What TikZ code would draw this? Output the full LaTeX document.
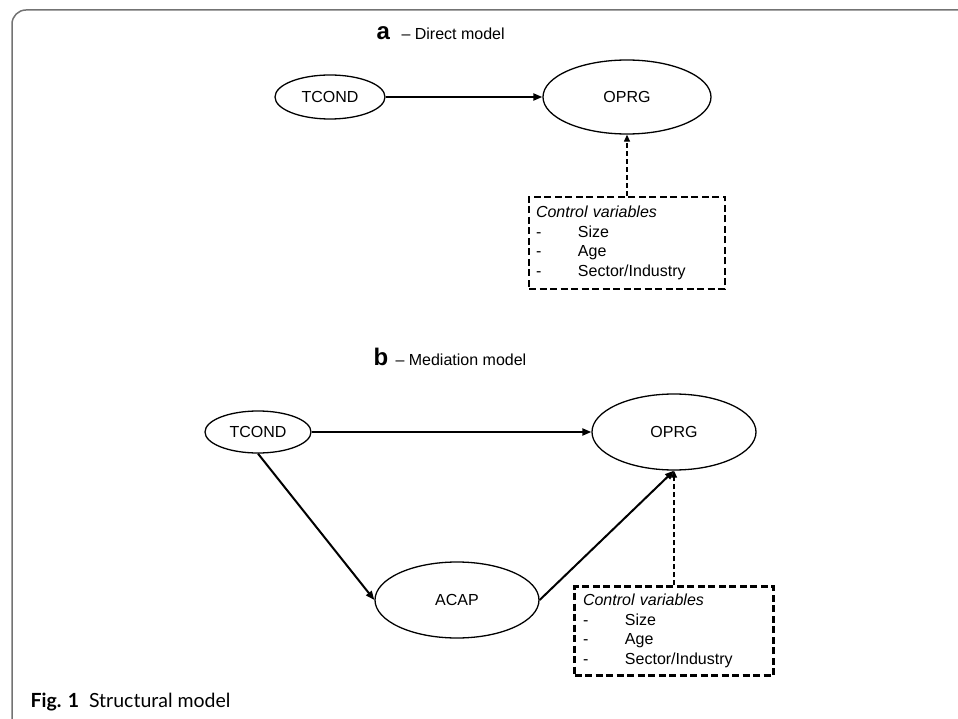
\documentclass[tikz,border=0pt]{standalone}
\usepackage{fontspec}
\setmainfont{Liberation Sans}
\newfontfamily\capfont{Lato}
\usetikzlibrary{arrows.meta,shapes.geometric}
\begin{document}
\begin{tikzpicture}[x=1pt,y=-1pt,
    latent/.style={ellipse,draw,line width=1.3pt,inner sep=0pt,
      font=\fontsize{16}{19}\selectfont},
    ctrl/.style={draw,line width=2.4pt,dash pattern=on 7pt off 3.5pt,
      minimum width=196pt,minimum height=92pt,inner xsep=0pt,
      text width=182pt,align=left,font=\fontsize{16}{19.5}\selectfont},
    panel/.style={anchor=base west,font=\fontsize{24}{26}\selectfont\bfseries},
    title/.style={anchor=base west,font=\fontsize{16}{19}\selectfont},
    path/.style={line width=2pt,-{Triangle[length=9pt,width=7pt]}},
    cpath/.style={line width=1.2pt,dash pattern=on 5pt off 3pt,
      -{Triangle[length=7pt,width=6pt]}},
    frame/.style={draw=black!55,line width=1.5pt,rounded corners=14pt}]
  \useasboundingbox (0,0) rectangle (958,719);
  \draw[frame] (12,719) -- (12,10) -- (958,10);
  \node[panel] (laba) at (373,40) {a};
  \node[title] (tita) at (398,40) {-- Direct model};
  \node[latent,minimum width=110pt,minimum height=44pt] (tconda) at (330,97) {TCOND};
  \node[latent,minimum width=168pt,minimum height=74pt] (oprga) at (627,97) {OPRG};
  \node[ctrl] (ctrla) at (627,243) {\textit{Control variables}\\
    \makebox[42pt][l]{-}Size\\ \makebox[42pt][l]{-}Age\\
    \makebox[42pt][l]{-}Sector/Industry};
  \draw[path] (tconda) -- (oprga);
  \draw[cpath] (ctrla.north) -- (oprga.south);
  \node[panel] (labb) at (370,365) {b};
  \node[title] (titb) at (392,365) {-- Mediation model};
  \node[latent,minimum width=106pt,minimum height=42pt] (tcondb) at (258,432) {TCOND};
  \node[latent,minimum width=164pt,minimum height=76pt] (oprgb) at (674,432) {OPRG};
  \node[latent,minimum width=164pt,minimum height=76pt] (acap) at (457,600) {ACAP};
  \node[ctrl,minimum width=199pt,minimum height=89pt] (ctrlb) at (674,631) {\textit{Control variables}\\
    \makebox[42pt][l]{-}Size\\ \makebox[42pt][l]{-}Age\\
    \makebox[42pt][l]{-}Sector/Industry};
  \draw[path] (tcondb) -- (oprgb);
  \draw[path] (tcondb.south) -- (acap.west);
  \draw[path] (acap.east) -- (oprgb.south);
  \draw[cpath] (ctrlb.north) -- (oprgb.south);
  \node[anchor=base west,font=\capfont\fontsize{19.5}{22}\selectfont] (cap) at (27,707)
    {\textbf{Fig. 1}\hspace{10pt}Structural model};
\end{tikzpicture}
\end{document}
